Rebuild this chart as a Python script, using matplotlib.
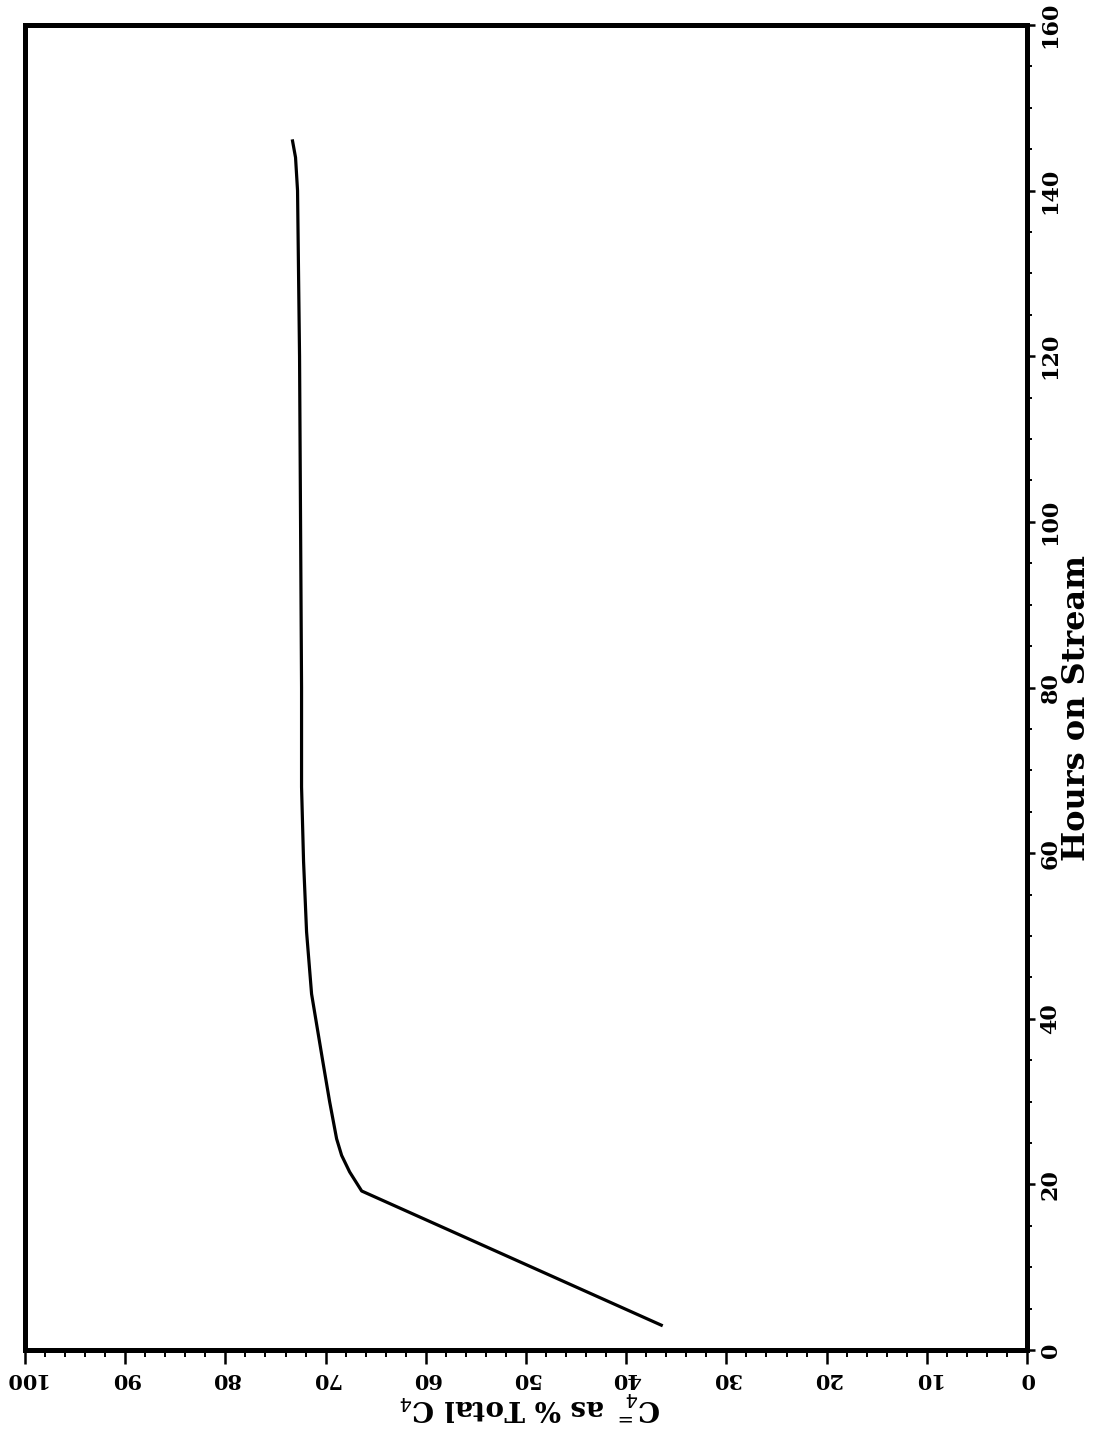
import matplotlib
matplotlib.use('Agg')
import matplotlib.pyplot as plt
from matplotlib.ticker import MultipleLocator

# scanned chart is turned on its side: hours run up the right edge,
# C4= % runs right-to-left along the bottom with upside-down labels
hours = [3, 19.2, 21.5, 23.5, 25.5, 30, 35, 43, 50.5, 59, 68, 80, 100, 120, 140, 144, 146]
c4_pct = [36.5, 66.4, 67.6, 68.4, 68.9, 69.6, 70.3, 71.4, 71.9, 72.2, 72.4, 72.4, 72.5, 72.6, 72.8, 73.0, 73.3]

pct_ticks = [100, 90, 80, 70, 60, 50, 40, 30, 20, 10, 0]
hour_ticks = [0, 20, 40, 60, 80, 100, 120, 140, 160]

plt.rcParams['font.family'] = ['DejaVu Serif']

W, H = 1099, 1434
fig = plt.figure(figsize=(W / 100, H / 100), dpi=100)
# frame in pixels: left 25, right 1027, top 25, bottom 1350
ax = fig.add_axes([25 / W, 1 - 1350 / H, (1027 - 25) / W, (1350 - 25) / H])

ax.plot(c4_pct, hours, color='black', lw=2.3)

ax.set_xlim(100, 0)
ax.set_ylim(0, 160)

for sp in ax.spines.values():
    sp.set_linewidth(3.6)

ax.set_xticks(pct_ticks)
ax.set_xticklabels([str(t) for t in pct_ticks], rotation=180, fontsize=15, fontweight='bold')
ax.xaxis.set_minor_locator(MultipleLocator(2))

ax.yaxis.tick_right()
ax.set_yticks(hour_ticks)
ax.set_yticklabels([str(t) for t in hour_ticks], rotation=90, va='center', fontsize=16, fontweight='bold')
ax.yaxis.set_minor_locator(MultipleLocator(5))

ax.tick_params(axis='x', which='major', direction='out', length=10, width=1.8, pad=3.5)
ax.tick_params(axis='x', which='minor', direction='out', length=5, width=1.4)
ax.tick_params(axis='y', which='major', direction='out', length=6, width=1.8, pad=3)
ax.tick_params(axis='y', which='minor', direction='out', length=3.5, width=1.4)

# axis titles placed by hand to sit where the scan has them
fig.text(530 / W, 1 - 1406 / H, r'C$_4^=$ as % Total C$_4$', rotation=180,
         ha='center', va='center', fontsize=20, fontweight='bold')
fig.text(1061 / W, 1 - 708 / H, 'Hours on Stream', rotation=90,
         ha='left', va='center', fontsize=23, fontweight='bold')

fig.savefig('out.png', dpi=100)
